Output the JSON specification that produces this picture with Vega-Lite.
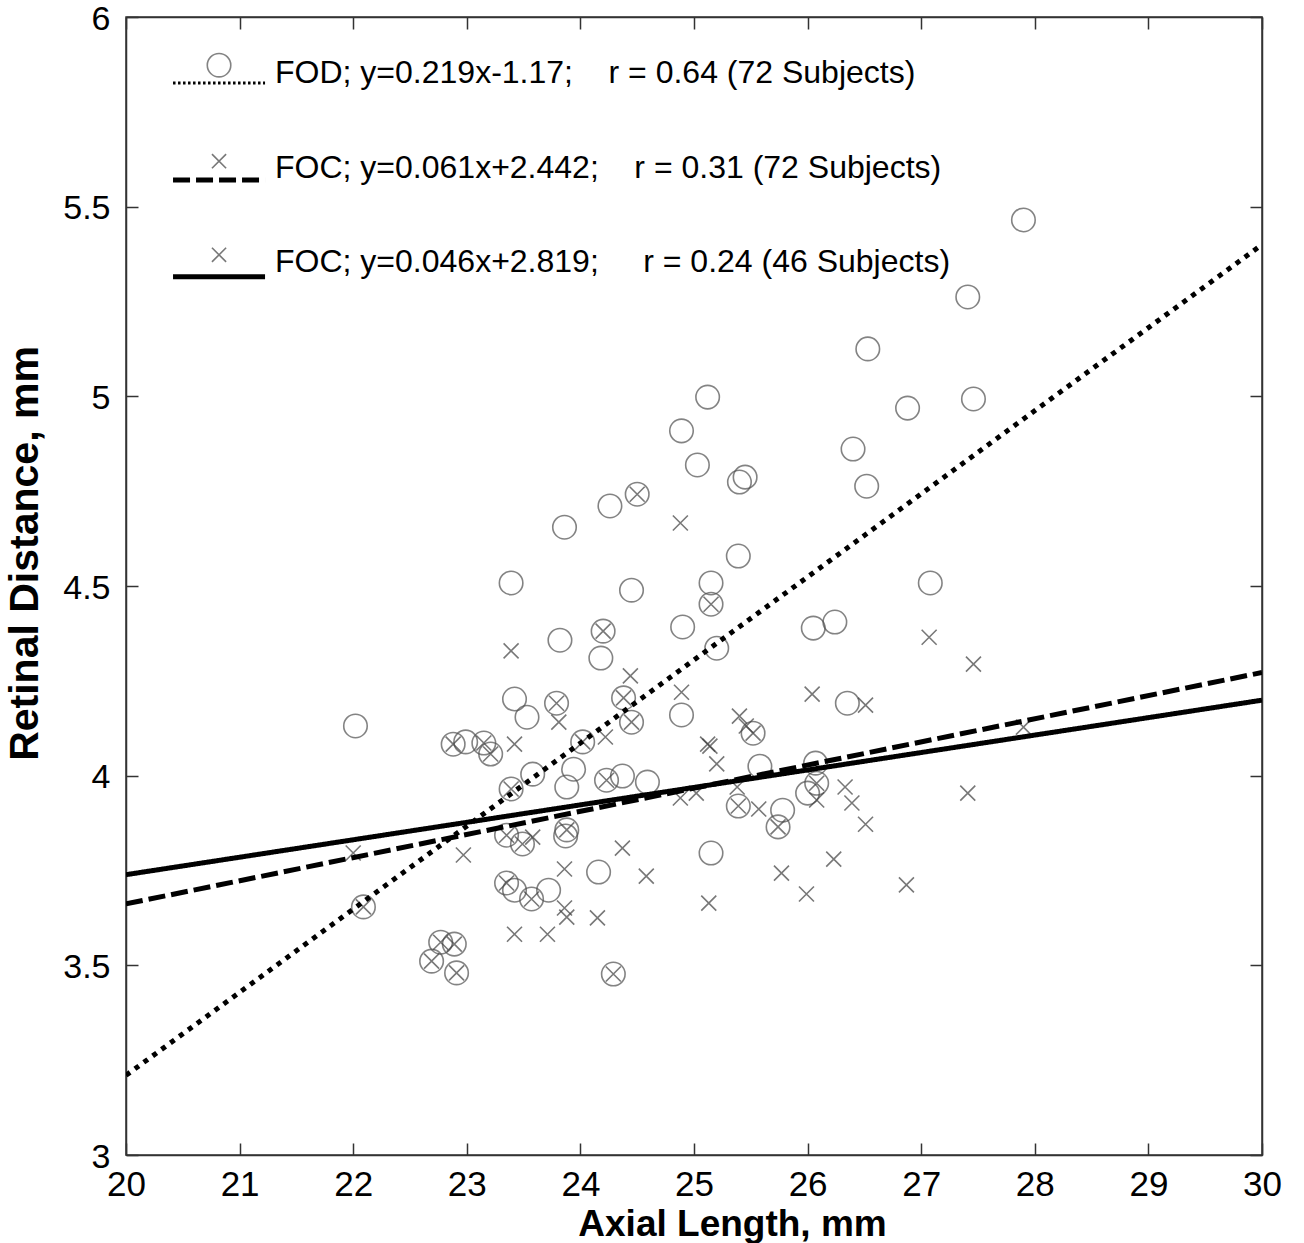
{
  "$schema": "https://vega.github.io/schema/vega-lite/v6.json",
  "width": 1136,
  "height": 1138,
  "autosize": {"type": "none"},
  "padding": {"left": 126, "top": 17, "right": 42, "bottom": 88},
  "background": "white",
  "config": {
    "font": "Liberation Sans",
    "view": {"stroke": "#333", "strokeWidth": 1.5},
    "axis": {"grid": false, "domainColor": "#333", "domainWidth": 1.5, "tickColor": "#333", "tickWidth": 1.5, "labelColor": "black", "titleColor": "black", "labelFont": "Liberation Sans", "titleFont": "Liberation Sans"}
  },
  "datasets": {
    "pts": [
      {"series": "FOD", "axial": 27.90, "retinal": 5.465},
      {"series": "FOD", "axial": 27.41, "retinal": 5.262},
      {"series": "FOD", "axial": 26.53, "retinal": 5.125},
      {"series": "FOD", "axial": 25.12, "retinal": 4.998},
      {"series": "FOD", "axial": 27.46, "retinal": 4.993},
      {"series": "FOD", "axial": 26.88, "retinal": 4.969},
      {"series": "FOD", "axial": 24.89, "retinal": 4.909},
      {"series": "FOD", "axial": 26.40, "retinal": 4.861},
      {"series": "FOD", "axial": 25.03, "retinal": 4.819},
      {"series": "FOD", "axial": 25.45, "retinal": 4.787},
      {"series": "FOD", "axial": 25.40, "retinal": 4.774},
      {"series": "FOD", "axial": 26.52, "retinal": 4.763},
      {"series": "FOD", "axial": 24.50, "retinal": 4.742},
      {"series": "FOD", "axial": 24.26, "retinal": 4.711},
      {"series": "FOD", "axial": 23.86, "retinal": 4.655},
      {"series": "FOD", "axial": 25.39, "retinal": 4.579},
      {"series": "FOD", "axial": 23.39, "retinal": 4.508},
      {"series": "FOD", "axial": 25.15, "retinal": 4.508},
      {"series": "FOD", "axial": 27.08, "retinal": 4.508},
      {"series": "FOD", "axial": 24.45, "retinal": 4.489},
      {"series": "FOD", "axial": 25.15, "retinal": 4.452},
      {"series": "FOD", "axial": 24.90, "retinal": 4.392},
      {"series": "FOD", "axial": 26.05, "retinal": 4.389},
      {"series": "FOD", "axial": 26.24, "retinal": 4.405},
      {"series": "FOD", "axial": 23.82, "retinal": 4.357},
      {"series": "FOD", "axial": 24.20, "retinal": 4.381},
      {"series": "FOD", "axial": 25.20, "retinal": 4.336},
      {"series": "FOD", "axial": 24.18, "retinal": 4.310},
      {"series": "FOD", "axial": 23.42, "retinal": 4.202},
      {"series": "FOD", "axial": 26.35, "retinal": 4.191},
      {"series": "FOD", "axial": 23.79, "retinal": 4.191},
      {"series": "FOD", "axial": 24.38, "retinal": 4.205},
      {"series": "FOD", "axial": 23.53, "retinal": 4.154},
      {"series": "FOD", "axial": 24.89, "retinal": 4.160},
      {"series": "FOD", "axial": 24.45, "retinal": 4.141},
      {"series": "FOD", "axial": 22.02, "retinal": 4.131},
      {"series": "FOD", "axial": 22.88, "retinal": 4.083},
      {"series": "FOD", "axial": 22.99, "retinal": 4.089},
      {"series": "FOD", "axial": 23.15, "retinal": 4.086},
      {"series": "FOD", "axial": 23.21, "retinal": 4.057},
      {"series": "FOD", "axial": 24.02, "retinal": 4.089},
      {"series": "FOD", "axial": 25.52, "retinal": 4.112},
      {"series": "FOD", "axial": 23.94, "retinal": 4.017},
      {"series": "FOD", "axial": 23.58, "retinal": 4.004},
      {"series": "FOD", "axial": 24.37, "retinal": 3.999},
      {"series": "FOD", "axial": 24.59, "retinal": 3.983},
      {"series": "FOD", "axial": 24.23, "retinal": 3.988},
      {"series": "FOD", "axial": 23.39, "retinal": 3.965},
      {"series": "FOD", "axial": 23.88, "retinal": 3.970},
      {"series": "FOD", "axial": 25.58, "retinal": 4.025},
      {"series": "FOD", "axial": 26.07, "retinal": 4.033},
      {"series": "FOD", "axial": 26.08, "retinal": 3.980},
      {"series": "FOD", "axial": 26.00, "retinal": 3.954},
      {"series": "FOD", "axial": 25.39, "retinal": 3.920},
      {"series": "FOD", "axial": 25.78, "retinal": 3.909},
      {"series": "FOD", "axial": 25.74, "retinal": 3.865},
      {"series": "FOD", "axial": 23.35, "retinal": 3.843},
      {"series": "FOD", "axial": 23.49, "retinal": 3.820},
      {"series": "FOD", "axial": 23.88, "retinal": 3.857},
      {"series": "FOD", "axial": 23.87, "retinal": 3.841},
      {"series": "FOD", "axial": 25.15, "retinal": 3.796},
      {"series": "FOD", "axial": 24.16, "retinal": 3.746},
      {"series": "FOD", "axial": 23.35, "retinal": 3.717},
      {"series": "FOD", "axial": 23.42, "retinal": 3.698},
      {"series": "FOD", "axial": 23.72, "retinal": 3.698},
      {"series": "FOD", "axial": 23.57, "retinal": 3.675},
      {"series": "FOD", "axial": 22.09, "retinal": 3.654},
      {"series": "FOD", "axial": 22.77, "retinal": 3.561},
      {"series": "FOD", "axial": 22.89, "retinal": 3.556},
      {"series": "FOD", "axial": 22.69, "retinal": 3.511},
      {"series": "FOD", "axial": 22.91, "retinal": 3.480},
      {"series": "FOD", "axial": 24.29, "retinal": 3.477},
      {"series": "FOC", "axial": 24.50, "retinal": 4.742},
      {"series": "FOC", "axial": 25.15, "retinal": 4.452},
      {"series": "FOC", "axial": 24.20, "retinal": 4.381},
      {"series": "FOC", "axial": 23.79, "retinal": 4.191},
      {"series": "FOC", "axial": 24.38, "retinal": 4.205},
      {"series": "FOC", "axial": 24.45, "retinal": 4.141},
      {"series": "FOC", "axial": 22.88, "retinal": 4.083},
      {"series": "FOC", "axial": 23.15, "retinal": 4.086},
      {"series": "FOC", "axial": 23.21, "retinal": 4.057},
      {"series": "FOC", "axial": 24.02, "retinal": 4.089},
      {"series": "FOC", "axial": 25.52, "retinal": 4.112},
      {"series": "FOC", "axial": 24.23, "retinal": 3.988},
      {"series": "FOC", "axial": 23.39, "retinal": 3.965},
      {"series": "FOC", "axial": 26.08, "retinal": 3.980},
      {"series": "FOC", "axial": 25.39, "retinal": 3.920},
      {"series": "FOC", "axial": 25.74, "retinal": 3.865},
      {"series": "FOC", "axial": 23.35, "retinal": 3.843},
      {"series": "FOC", "axial": 23.49, "retinal": 3.820},
      {"series": "FOC", "axial": 23.88, "retinal": 3.857},
      {"series": "FOC", "axial": 23.35, "retinal": 3.717},
      {"series": "FOC", "axial": 23.57, "retinal": 3.675},
      {"series": "FOC", "axial": 22.09, "retinal": 3.654},
      {"series": "FOC", "axial": 22.77, "retinal": 3.561},
      {"series": "FOC", "axial": 22.89, "retinal": 3.556},
      {"series": "FOC", "axial": 22.69, "retinal": 3.511},
      {"series": "FOC", "axial": 22.91, "retinal": 3.480},
      {"series": "FOC", "axial": 24.29, "retinal": 3.477},
      {"series": "FOC", "axial": 24.88, "retinal": 4.666},
      {"series": "FOC", "axial": 23.39, "retinal": 4.329},
      {"series": "FOC", "axial": 24.44, "retinal": 4.263},
      {"series": "FOC", "axial": 24.89, "retinal": 4.220},
      {"series": "FOC", "axial": 26.04, "retinal": 4.215},
      {"series": "FOC", "axial": 27.07, "retinal": 4.365},
      {"series": "FOC", "axial": 27.46, "retinal": 4.294},
      {"series": "FOC", "axial": 26.51, "retinal": 4.186},
      {"series": "FOC", "axial": 23.81, "retinal": 4.141},
      {"series": "FOC", "axial": 23.42, "retinal": 4.083},
      {"series": "FOC", "axial": 24.22, "retinal": 4.102},
      {"series": "FOC", "axial": 25.40, "retinal": 4.157},
      {"series": "FOC", "axial": 25.46, "retinal": 4.131},
      {"series": "FOC", "axial": 25.12, "retinal": 4.083},
      {"series": "FOC", "axial": 25.14, "retinal": 4.078},
      {"series": "FOC", "axial": 25.20, "retinal": 4.031},
      {"series": "FOC", "axial": 24.88, "retinal": 3.941},
      {"series": "FOC", "axial": 25.02, "retinal": 3.954},
      {"series": "FOC", "axial": 25.38, "retinal": 3.970},
      {"series": "FOC", "axial": 25.57, "retinal": 3.912},
      {"series": "FOC", "axial": 26.08, "retinal": 3.936},
      {"series": "FOC", "axial": 26.33, "retinal": 3.970},
      {"series": "FOC", "axial": 26.39, "retinal": 3.928},
      {"series": "FOC", "axial": 26.51, "retinal": 3.872},
      {"series": "FOC", "axial": 27.41, "retinal": 3.954},
      {"series": "FOC", "axial": 27.90, "retinal": 4.128},
      {"series": "FOC", "axial": 22.00, "retinal": 3.796},
      {"series": "FOC", "axial": 22.97, "retinal": 3.791},
      {"series": "FOC", "axial": 23.58, "retinal": 3.838},
      {"series": "FOC", "axial": 24.37, "retinal": 3.809},
      {"series": "FOC", "axial": 23.86, "retinal": 3.754},
      {"series": "FOC", "axial": 24.58, "retinal": 3.735},
      {"series": "FOC", "axial": 23.86, "retinal": 3.651},
      {"series": "FOC", "axial": 23.88, "retinal": 3.627},
      {"series": "FOC", "axial": 24.15, "retinal": 3.625},
      {"series": "FOC", "axial": 23.42, "retinal": 3.582},
      {"series": "FOC", "axial": 23.71, "retinal": 3.582},
      {"series": "FOC", "axial": 25.77, "retinal": 3.743},
      {"series": "FOC", "axial": 26.23, "retinal": 3.780},
      {"series": "FOC", "axial": 25.99, "retinal": 3.688},
      {"series": "FOC", "axial": 26.87, "retinal": 3.712},
      {"series": "FOC", "axial": 25.13, "retinal": 3.664}
    ],
    "fits": [
      {"fit": "FOD 72", "axial": 20, "retinal": 3.21},
      {"fit": "FOD 72", "axial": 30, "retinal": 5.40},
      {"fit": "FOC 72", "axial": 20, "retinal": 3.662},
      {"fit": "FOC 72", "axial": 30, "retinal": 4.272},
      {"fit": "FOC 46", "axial": 20, "retinal": 3.739},
      {"fit": "FOC 46", "axial": 30, "retinal": 4.199}
    ],
    "legend": [
      {"key": "FOD 72", "label": "FOD; y=0.219x-1.17;\u00a0\u00a0\u00a0\u00a0r = 0.64 (72 Subjects)"},
      {"key": "FOC 72", "label": "FOC; y=0.061x+2.442;\u00a0\u00a0\u00a0\u00a0r = 0.31 (72 Subjects)"},
      {"key": "FOC 46", "label": "FOC; y=0.046x+2.819;\u00a0\u00a0\u00a0\u00a0\u00a0r = 0.24 (46 Subjects)"}
    ]
  },
  "resolve": {"axis": {"x": "independent", "y": "independent"}},
  "layer": [
    {
      "data": {"name": "pts"},
      "mark": {"type": "point", "filled": false, "strokeWidth": 1.6},
      "encoding": {
        "x": {"field": "axial", "type": "quantitative",
              "scale": {"domain": [20, 30], "nice": false, "zero": false},
              "axis": {"orient": "bottom", "values": [20,21,22,23,24,25,26,27,28,29,30], "tickSize": -12, "labelPadding": 24, "labelFontSize": 35, "labelFlush": false, "title": "Axial Length, mm", "titleFontSize": 37, "titleFontWeight": "bold", "titlePadding": 4, "titleX": 606, "titleAlign": "center"}},
        "y": {"field": "retinal", "type": "quantitative",
              "scale": {"domain": [3, 6], "nice": false, "zero": false},
              "axis": {"orient": "left", "values": [3,3.5,4,4.5,5,5.5,6], "format": ".1~f", "tickSize": -12, "labelPadding": 28, "labelFontSize": 34, "labelOffset": 2, "labelFlush": false, "title": "Retinal Distance, mm", "titleFontSize": 41, "titleFontWeight": "bold", "titlePadding": 16, "titleY": 536, "titleAlign": "center"}},
        "shape": {"field": "series", "type": "nominal", "legend": null,
                  "scale": {"domain": ["FOD", "FOC"], "range": ["circle", "M-1,-1L1,1M-1,1L1,-1"]}},
        "size": {"field": "series", "type": "nominal", "legend": null,
                 "scale": {"domain": ["FOD", "FOC"], "range": [552, 225]}},
        "color": {"field": "series", "type": "nominal", "legend": null,
                  "scale": {"domain": ["FOD", "FOC"], "range": ["#505050", "#404040"]}}
      }
    },
    {
      "data": {"name": "fits"},
      "mark": {"type": "line", "strokeWidth": 5, "strokeCap": "butt", "color": "black", "clip": true},
      "encoding": {
        "x": {"field": "axial", "type": "quantitative",
              "axis": {"orient": "top", "values": [20,21,22,23,24,25,26,27,28,29,30], "tickSize": -12, "labels": false, "title": null}},
        "y": {"field": "retinal", "type": "quantitative",
              "axis": {"orient": "right", "values": [3,3.5,4,4.5,5,5.5,6], "tickSize": -12, "labels": false, "title": null}},
        "detail": {"field": "fit", "type": "nominal"},
        "strokeDash": {"field": "fit", "type": "nominal", "legend": null,
                       "scale": {"domain": ["FOD 72", "FOC 72", "FOC 46"], "range": [[5, 6], [17, 6], [1, 0]]}}
      }
    },
    {
      "data": {"name": "legend"},
      "transform": [{"filter": "datum.key === 'FOD 72'"}],
      "mark": {"type": "rule", "strokeWidth": 3, "strokeDash": [2.5, 2.5], "color": "black"},
      "encoding": {"x": {"datum": 20.414, "axis": null}, "x2": {"datum": 21.224}, "y": {"datum": 5.826, "axis": null}}
    },
    {
      "data": {"name": "legend"},
      "transform": [{"filter": "datum.key === 'FOC 72'"}],
      "mark": {"type": "rule", "strokeWidth": 5, "strokeDash": [17, 6], "color": "black"},
      "encoding": {"x": {"datum": 20.414, "axis": null}, "x2": {"datum": 21.224}, "y": {"datum": 5.570, "axis": null}}
    },
    {
      "data": {"name": "legend"},
      "transform": [{"filter": "datum.key === 'FOC 46'"}],
      "mark": {"type": "rule", "strokeWidth": 5, "color": "black"},
      "encoding": {"x": {"datum": 20.414, "axis": null}, "x2": {"datum": 21.224}, "y": {"datum": 5.315, "axis": null}}
    },
    {
      "data": {"name": "legend"},
      "transform": [{"filter": "datum.key === 'FOD 72'"}],
      "mark": {"type": "point", "filled": false, "shape": "circle", "size": 552, "strokeWidth": 1.6, "color": "#505050"},
      "encoding": {"x": {"datum": 20.819, "axis": null}, "y": {"datum": 5.873, "axis": null}}
    },
    {
      "data": {"name": "legend"},
      "transform": [{"filter": "datum.key === 'FOC 72'"}],
      "mark": {"type": "point", "filled": false, "shape": "M-1,-1L1,1M-1,1L1,-1", "size": 200, "strokeWidth": 1.6, "color": "#404040"},
      "encoding": {"x": {"datum": 20.819, "axis": null}, "y": {"datum": 5.620, "axis": null}}
    },
    {
      "data": {"name": "legend"},
      "transform": [{"filter": "datum.key === 'FOC 46'"}],
      "mark": {"type": "point", "filled": false, "shape": "M-1,-1L1,1M-1,1L1,-1", "size": 200, "strokeWidth": 1.6, "color": "#404040"},
      "encoding": {"x": {"datum": 20.819, "axis": null}, "y": {"datum": 5.373, "axis": null}}
    },
    {
      "data": {"name": "legend"},
      "transform": [{"filter": "datum.key === 'FOD 72'"}],
      "mark": {"type": "text", "align": "left", "baseline": "alphabetic", "fontSize": 32, "font": "Liberation Sans", "color": "black"},
      "encoding": {"text": {"field": "label"}, "x": {"datum": 21.312, "axis": null}, "y": {"datum": 5.826, "axis": null}}
    },
    {
      "data": {"name": "legend"},
      "transform": [{"filter": "datum.key === 'FOC 72'"}],
      "mark": {"type": "text", "align": "left", "baseline": "alphabetic", "fontSize": 32, "font": "Liberation Sans", "color": "black"},
      "encoding": {"text": {"field": "label"}, "x": {"datum": 21.312, "axis": null}, "y": {"datum": 5.576, "axis": null}}
    },
    {
      "data": {"name": "legend"},
      "transform": [{"filter": "datum.key === 'FOC 46'"}],
      "mark": {"type": "text", "align": "left", "baseline": "alphabetic", "fontSize": 32, "font": "Liberation Sans", "color": "black"},
      "encoding": {"text": {"field": "label"}, "x": {"datum": 21.312, "axis": null}, "y": {"datum": 5.328, "axis": null}}
    }
  ]
}
